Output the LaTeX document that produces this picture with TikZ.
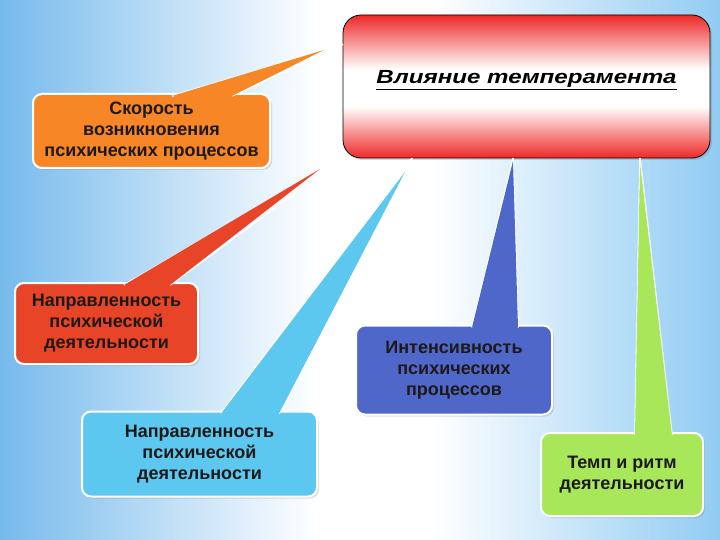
\documentclass[tikz,border=0pt]{standalone}
\usepackage{fontspec}
\setmainfont{Liberation Sans}
\newfontfamily\titlefont[FakeStretch=1.27]{Liberation Sans}
\usetikzlibrary{shadows,calc,positioning}

\definecolor{orgfill}{RGB}{246,134,38}
\definecolor{redfill}{RGB}{232,69,40}
\definecolor{cyanfill}{RGB}{92,200,240}
\definecolor{bluefill}{RGB}{79,103,200}
\definecolor{greenfill}{RGB}{168,230,90}
\definecolor{titlered}{RGB}{238,40,40}
\definecolor{bgleft}{RGB}{118,186,236}
\definecolor{bgright}{RGB}{145,203,243}
\definecolor{txt}{RGB}{30,25,25}

\pgfdeclareverticalshading{titleband}{100bp}{color(0bp)=(titlered); color(25bp)=(titlered); color(43bp)=(white); color(56bp)=(white); color(75bp)=(titlered); color(100bp)=(titlered)}
\pgfdeclarehorizontalshading{skyband}{100bp}{color(0bp)=(bgleft); color(25bp)=(bgleft); color(47bp)=(white); color(55bp)=(white); color(75bp)=(bgright); color(100bp)=(bgright)}

\tikzset{
    topic/.style={rounded corners=9pt, draw=white, line width=2pt, align=center, text=txt,
        font=\fontsize{18}{21}\selectfont\bfseries, inner sep=0pt,
        drop shadow={opacity=0.25, shadow xshift=2pt, shadow yshift=-2pt}},
    mainbox/.style={rounded corners=18pt, draw=black, line width=0.8pt, shading=titleband,
        inner sep=0pt, minimum width=367pt, minimum height=143pt,
        drop shadow={opacity=0.3, shadow xshift=2pt, shadow yshift=-2pt}},
    wedgeline/.style={draw=white, line width=1.6pt, line join=round},
}

\begin{document}
\begin{tikzpicture}[x=1pt,y=-1pt]

    \fill[shading=skyband] (0,0) rectangle (720,540);

    \node[mainbox] at (526.5,86.5) (infl) {\raisebox{3pt}[0pt][0pt]{\titlefont\fontsize{19}{22}\selectfont\bfseries\itshape\underline{Влияние темперамента}}};

    \node[topic, fill=orgfill, minimum width=237pt, minimum height=74pt] at (151.5,131) (speed) {Скорость\\возникновения\\психических процессов};
    \node[topic, fill=redfill, minimum width=183pt, minimum height=81pt] at (106.5,323.5) (dir) {Направленность\\психической\\деятельности};
    \node[topic, fill=cyanfill, minimum width=235pt, minimum height=85pt] at (199.5,454) (dirb) {Направленность\\психической\\деятельности};
    \node[topic, fill=bluefill, minimum width=196pt, minimum height=89pt] at (454,370) (inten) {Интенсивность\\психических\\процессов};
    \node[topic, fill=greenfill, minimum width=162pt, minimum height=83pt] at (622,474.5) (tempo) {Темп и ритм\\деятельности};

    % tips of the callouts
    \coordinate (speedtip) at (324,50);
    \coordinate (dirtip) at (320,169);
    \coordinate (dirbtip) at (405,172);
    \coordinate (intentip) at (513,161);
    \coordinate (tempotip) at (640,163);

    \draw[wedgeline] ([xshift=20.5pt,yshift=-3pt]speed.north) -- ([yshift=42pt]infl.west) -- ([xshift=80.5pt,yshift=-3pt]speed.north);
    \fill[orgfill] ([xshift=20.5pt,yshift=-3pt]speed.north) -- (speedtip) -- ([xshift=80.5pt,yshift=-3pt]speed.north) -- cycle;

    \draw[wedgeline] ([xshift=17.5pt,yshift=-3pt]dir.north) -- (infl.south west) -- ([xshift=63.5pt,yshift=-3pt]dir.north);
    \fill[redfill] ([xshift=17.5pt,yshift=-3pt]dir.north) -- (dirtip) -- ([xshift=63.5pt,yshift=-3pt]dir.north) -- cycle;

    \draw[wedgeline] ([xshift=21.5pt,yshift=-3pt]dirb.north) -- ([xshift=-114.5pt]infl.south) -- ([xshift=79.5pt,yshift=-3pt]dirb.north);
    \fill[cyanfill] ([xshift=21.5pt,yshift=-3pt]dirb.north) -- (dirbtip) -- ([xshift=79.5pt,yshift=-3pt]dirb.north) -- cycle;

    \draw[wedgeline] ([xshift=18pt,yshift=-3pt]inten.north) -- ([xshift=-13.5pt]infl.south) -- ([xshift=64pt,yshift=-3pt]inten.north);
    \fill[bluefill] ([xshift=18pt,yshift=-3pt]inten.north) -- (intentip) -- ([xshift=64pt,yshift=-3pt]inten.north) -- cycle;

    \draw[wedgeline] ([xshift=13pt,yshift=-3pt]tempo.north) -- ([xshift=113.5pt]infl.south) -- ([xshift=50pt,yshift=-3pt]tempo.north);
    \fill[greenfill] ([xshift=13pt,yshift=-3pt]tempo.north) -- (tempotip) -- ([xshift=50pt,yshift=-3pt]tempo.north) -- cycle;

\end{tikzpicture}
\end{document}
